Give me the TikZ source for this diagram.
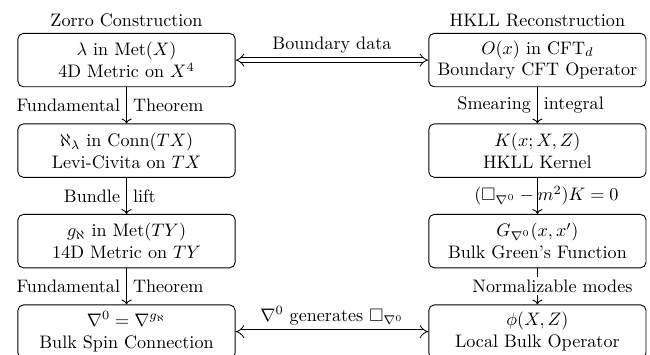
\documentclass[tikz,border=0pt]{standalone}
\usepackage{amsmath}
\usepackage{amssymb}
\usepackage{tikz}
\usetikzlibrary{positioning,arrows.meta}

\begin{document}
\begin{tikzpicture}[
		line width=0.5pt,
		box/.style={draw, rounded corners=3pt, minimum width=120pt, minimum height=29.5pt, align=center, inner sep=2pt},
		dbl/.style={draw, double=white, double distance=2.1pt, line width=0.45pt, {Implies[length=3pt]}-{Implies[length=3pt]}},
		node distance=20pt and 106.5pt,
		>={To}]
		\useasboundingbox (-69.9pt, 33.2pt) rectangle (289.2pt, -162.4pt);
		
		\node[box] (Lambda) at (0, 0) {$\lambda$ in $\mathrm{Met}(X)$ \\ 4D Metric on $X^4$};
		\node[box, below=of Lambda] (Aleph) {$\aleph_\lambda$ in $\mathrm{Conn}(TX)$ \\ Levi-Civita on $TX$};
		\node[box, below=of Aleph] (GAleph) {$g_\aleph$ in $\mathrm{Met}(TY)$ \\ 14D Metric on $TY$};
		\node[box, below=of GAleph] (Nabla) {$\nabla^0 = \nabla^{g_\aleph}$ \\ Bulk Spin Connection};
		
		\node[box, right=of Lambda] (Op) {$O(x)$ in $\mathrm{CFT}_d$ \\ Boundary CFT Operator};
		\node[box, below=of Op] (Kernel) {$K(x; X, Z)$ \\ HKLL Kernel};
		\node[box, below=of Kernel] (Green) {$G_{\nabla^0}(x, x')$ \\ Bulk Green's Function};
		\node[box, below=of Green] (Phi) {$\phi(X, Z)$ \\ Local Bulk Operator};
		
		\node[above=0pt of Lambda] (Zorro) {Zorro Construction};
		\node[above=0pt of Op] (HKLL) {HKLL Reconstruction};
		
		% left column
		\draw[->] (Lambda) -- (Aleph) node[midway, left] {Fundamental} node[midway, right] {Theorem};
		\draw[->] (Aleph) -- (GAleph) node[midway, left] {Bundle} node[midway, right] {lift};
		\draw[->] (GAleph) -- (Nabla) node[midway, left] {Fundamental} node[midway, right] {Theorem};
		
		% right column
		\draw[->] (Op) -- (Kernel) node[midway, left] {Smearing} node[midway, right] {integral};
		\draw[->] (Kernel) -- (Green) node[midway, xshift=5pt] {$(\Box_{\nabla^0} - m^2)K = 0$};
		\draw[->] (Green) -- (Phi) node[midway, xshift=8.3pt, fill=white, inner sep=1.5pt] {Normalizable modes};
		
		% across
		\draw[dbl] (Lambda) -- (Op) node[midway, above] {Boundary data};
		\draw[dbl] (Nabla) -- (Phi) node[midway, above] {$\nabla^0$ generates $\Box_{\nabla^0}$};
	\end{tikzpicture}
\end{document}
